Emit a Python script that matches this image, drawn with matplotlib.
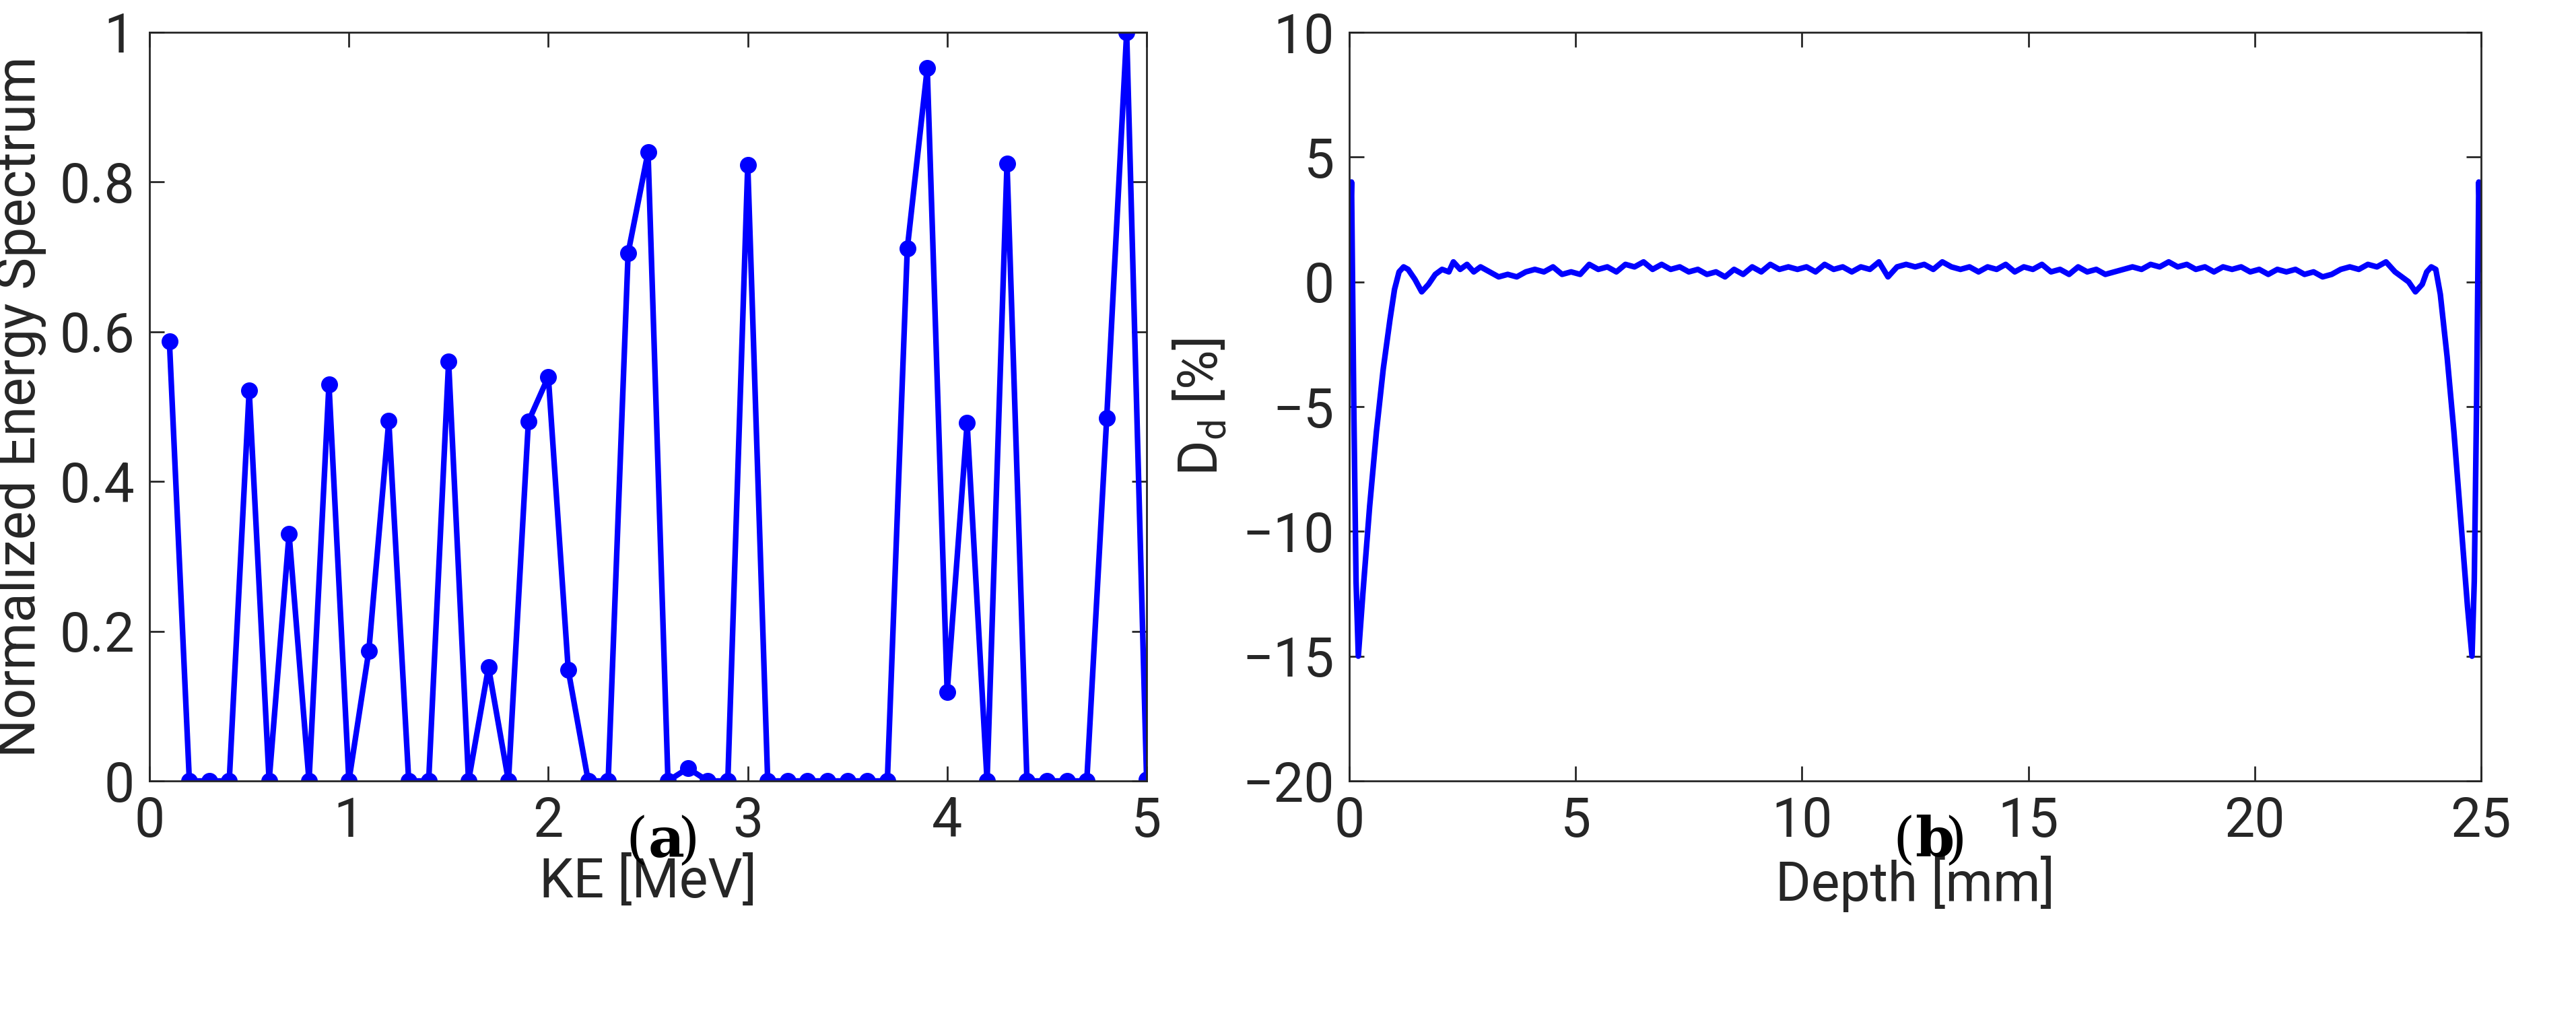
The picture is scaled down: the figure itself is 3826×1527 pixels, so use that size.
import matplotlib
matplotlib.use("Agg")
import matplotlib.pyplot as plt

ke = [round(0.1*i, 1) for i in range(1, 51)]
spectrum = [0.587, 0, 0, 0, 0.522, 0, 0.33, 0, 0.53, 0,
            0.174, 0.481, 0, 0, 0.56, 0, 0.152, 0, 0.48, 0.54,
            0.148, 0, 0, 0.705, 0.84, 0, 0.017, 0, 0, 0.823,
            0, 0, 0, 0, 0, 0, 0, 0.711, 0.952, 0.119,
            0.478, 0, 0.825, 0, 0, 0, 0, 0.485, 1.0, 0.002]

depth = [0, 0.05, 0.1, 0.15, 0.2, 0.3, 0.45, 0.6, 0.75, 0.9, 1.0, 1.1, 1.2, 1.3, 1.45, 1.6, 1.75, 1.9,
         2.05, 2.2, 2.3, 2.45, 2.6, 2.75, 2.9, 3.1, 3.3, 3.5, 3.7, 3.9, 4.1, 4.3, 4.5, 4.7, 4.9,
         5.1, 5.3, 5.5, 5.7, 5.9, 6.1, 6.3, 6.5, 6.7, 6.9, 7.1, 7.3, 7.5, 7.7, 7.9, 8.1, 8.3,
         8.5, 8.7, 8.9, 9.1, 9.3, 9.5, 9.7, 9.9, 10.1, 10.3, 10.5, 10.7, 10.9, 11.1, 11.3, 11.5,
         11.7, 11.9, 12.1, 12.3, 12.5, 12.7, 12.9, 13.1, 13.3, 13.5, 13.7, 13.9, 14.1, 14.3, 14.5,
         14.7, 14.9, 15.1, 15.3, 15.5, 15.7, 15.9, 16.1, 16.3, 16.5, 16.7, 16.9, 17.1, 17.3, 17.5,
         17.7, 17.9, 18.1, 18.3, 18.5, 18.7, 18.9, 19.1, 19.3, 19.5, 19.7, 19.9, 20.1, 20.3, 20.5,
         20.7, 20.9, 21.1, 21.3, 21.5, 21.7, 21.9, 22.1, 22.3, 22.5, 22.7, 22.9, 23.1, 23.25, 23.4,
         23.55, 23.7, 23.8, 23.9, 24.0, 24.1, 24.25, 24.4, 24.55, 24.7, 24.8, 24.85, 24.9, 24.95, 25.0]
deviation = [0.5, 4.0, -5.0, -12.0, -15.0, -12.5, -9.0, -6.0, -3.5, -1.5, -0.3, 0.4, 0.6, 0.5, 0.1, -0.4, -0.1, 0.3,
             0.5, 0.4, 0.8, 0.5, 0.7, 0.4, 0.6, 0.4, 0.2, 0.3, 0.2, 0.4, 0.5, 0.4, 0.6, 0.3, 0.4,
             0.3, 0.7, 0.5, 0.6, 0.4, 0.7, 0.6, 0.8, 0.5, 0.7, 0.5, 0.6, 0.4, 0.5, 0.3, 0.4, 0.2,
             0.5, 0.3, 0.6, 0.4, 0.7, 0.5, 0.6, 0.5, 0.6, 0.4, 0.7, 0.5, 0.6, 0.4, 0.6, 0.5,
             0.8, 0.2, 0.6, 0.7, 0.6, 0.7, 0.5, 0.8, 0.6, 0.5, 0.6, 0.4, 0.6, 0.5, 0.7,
             0.4, 0.6, 0.5, 0.7, 0.4, 0.5, 0.3, 0.6, 0.4, 0.5, 0.3, 0.4, 0.5, 0.6, 0.5,
             0.7, 0.6, 0.8, 0.6, 0.7, 0.5, 0.6, 0.4, 0.6, 0.5, 0.6, 0.4, 0.5, 0.3, 0.5,
             0.4, 0.5, 0.3, 0.4, 0.2, 0.3, 0.5, 0.6, 0.5, 0.7, 0.6, 0.8, 0.4, 0.2, 0.0,
             -0.4, -0.1, 0.4, 0.6, 0.5, -0.5, -3.0, -6.0, -9.5, -13.0, -15.0, -12.0, -5.0, 4.0, 0.5]

plt.rcParams['font.family'] = ['Roboto', 'DejaVu Sans']
fs = 58
fig = plt.figure(figsize=(38.26, 15.27), dpi=100)
W, H = 3826, 1527
ax1 = fig.add_axes([222/W, 1-1160/H, (1703-222)/W, (1160-48)/H])
ax2 = fig.add_axes([2004/W, 1-1160/H, (3685-2004)/W, (1160-48)/H])
blue = '#0000ff'

ax1.plot(ke, spectrum, color=blue, lw=6, marker='o', ms=17)
ax1.set_xlim(0, 5); ax1.set_ylim(0, 1)
ax1.set_xticks([0, 1, 2, 3, 4, 5]); ax1.set_yticks([0, 0.2, 0.4, 0.6, 0.8, 1])
ax1.set_yticklabels(['0', '0.2', '0.4', '0.6', '0.8', '1'])
ax1.set_xlabel('KE [MeV]', fontsize=fs, color='#262626', labelpad=8)
ax1.set_ylabel('Normalized Energy Spectrum', fontsize=fs, color='#262626', labelpad=14)

ax2.plot(depth, deviation, color=blue, lw=6)
ax2.set_xlim(0, 25); ax2.set_ylim(-20, 10)
ax2.set_xticks([0, 5, 10, 15, 20, 25]); ax2.set_yticks([-20, -15, -10, -5, 0, 5, 10])
ax2.set_xlabel('Depth [mm]', fontsize=fs, color='#262626', labelpad=8)
ax2.set_ylabel(r'D$_\mathregular{d}$ [%]', fontsize=fs, color='#262626', labelpad=14)

for ax in (ax1, ax2):
    ax.tick_params(labelsize=fs, colors='#262626', direction='in', length=16, width=2,
                   top=True, right=True, pad=16)
    for s in ax.spines.values():
        s.set_linewidth(2); s.set_color('#262626')

cy = 1-1250/H
cfs = 60
for cx, letter in (((222+1703)/2/W, 'a'), ((2004+3685)/2/W, 'b')):
    fig.text(cx, cy, '(', fontsize=cfs, family='DejaVu Serif', ha='right', va='center')
    fig.text(cx, cy, letter, fontsize=cfs, family='DejaVu Serif', weight='bold', ha='left', va='center')
    fig.text(cx+0.0115, cy, ')', fontsize=cfs, family='DejaVu Serif', ha='left', va='center')

fig.savefig('out.png', dpi=100)
